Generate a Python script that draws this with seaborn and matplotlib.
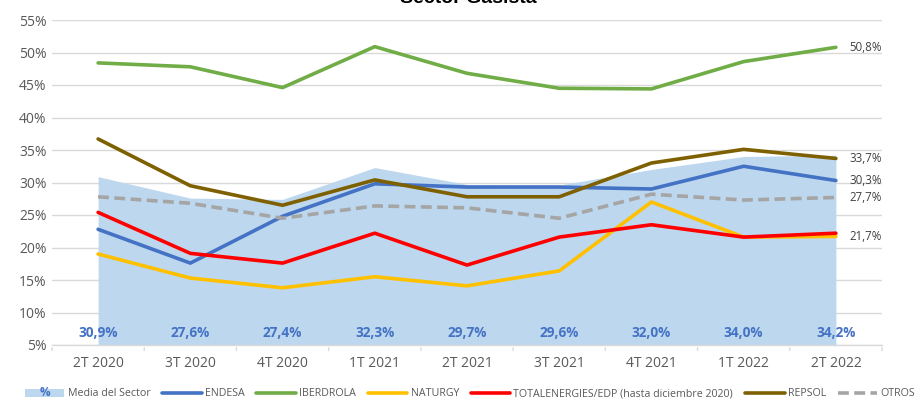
import numpy as np
import pandas as pd
import matplotlib
matplotlib.use("Agg")
import matplotlib.pyplot as plt
import seaborn as sns
from matplotlib.patches import Patch
from matplotlib.lines import Line2D

categories = ["2T 2020", "3T 2020", "4T 2020", "1T 2021", "2T 2021",
              "3T 2021", "4T 2021", "1T 2022", "2T 2022"]
media = [30.9, 27.6, 27.4, 32.3, 29.7, 29.6, 32.0, 34.0, 34.2]
endesa = [22.8, 17.6, 24.8, 29.8, 29.3, 29.3, 29.0, 32.5, 30.3]
iberdrola = [48.4, 47.8, 44.6, 50.9, 46.8, 44.5, 44.4, 48.6, 50.8]
naturgy = [19.0, 15.3, 13.8, 15.5, 14.1, 16.4, 27.0, 21.6, 21.7]
totalenergies = [25.4, 19.1, 17.6, 22.2, 17.3, 21.6, 23.5, 21.6, 22.2]
repsol = [36.7, 29.5, 26.5, 30.4, 27.8, 27.8, 33.0, 35.1, 33.7]
otros = [27.8, 26.8, 24.5, 26.4, 26.1, 24.5, 28.2, 27.3, 27.7]

series_names = ["ENDESA", "IBERDROLA", "NATURGY",
                "TOTALENERGIES/EDP (hasta diciembre 2020)", "REPSOL", "OTROS"]
series_vals = [endesa, iberdrola, naturgy, totalenergies, repsol, otros]
colors = ["#4472C4", "#70AD47", "#FFC000", "#FF0000", "#7F6000", "#A5A5A5"]
end_labels = {"IBERDROLA": "50,8%", "REPSOL": "33,7%", "ENDESA": "30,3%",
              "OTROS": "27,7%", "NATURGY": "21,7%"}

sns.set_theme(style="white")
plt.rcParams['font.family'] = ['Open Sans', 'DejaVu Sans']

fig = plt.figure(figsize=(9.22, 4.01), dpi=100)
ax = fig.add_axes([52/922, 1-345/401, 830/922, 325/401])

x = np.arange(len(categories))
ax.fill_between(x, 5, media, color="#BDD7EE", linewidth=0, zorder=1)

rows = []
for name, vals in zip(series_names, series_vals):
    for i, v in enumerate(vals):
        rows.append({"x": i, "val": v, "serie": name})
df = pd.DataFrame(rows)
pal = dict(zip(series_names, colors))
dash_map = {n: ("" if n != "OTROS" else (3, 1.5)) for n in series_names}
sns.lineplot(data=df, x="x", y="val", hue="serie", style="serie",
             palette=pal, dashes=dash_map, hue_order=series_names,
             style_order=series_names, linewidth=2.6, ax=ax, legend=False,
             zorder=3)

ax.set_xlim(-0.5, len(categories) - 0.5)
ax.set_ylim(5, 55)
ax.set_yticks(np.arange(5, 56, 5))
ax.set_yticklabels([f"{v}%" for v in range(5, 56, 5)], color="#595959", fontsize=10)
ax.yaxis.grid(True, color="#D9D9D9", linewidth=1)
ax.set_axisbelow(True)
ax.set_xticks(x)
ax.set_xticklabels(categories, color="#595959", fontsize=10)
ax.tick_params(axis="x", length=0, pad=8)
ax.tick_params(axis="y", length=0, pad=4)
ax.set_xlabel("")
ax.set_ylabel("")
for s in ["top", "right", "left"]:
    ax.spines[s].set_visible(False)
ax.spines["bottom"].set_color("#D9D9D9")
ax.spines["bottom"].set_linewidth(1)
for b in np.arange(-0.5, len(categories), 1.0):
    ax.annotate("", xy=(b, 5), xycoords="data", xytext=(0, -6),
                textcoords="offset points",
                arrowprops=dict(arrowstyle="-", color="#D9D9D9", lw=1))

for i, v in enumerate(media):
    ax.text(i, 6.8, f"{v:.1f}%".replace(".", ","), ha="center", va="center",
            color="#4472C4", fontsize=9.8, fontweight="bold", zorder=4)

for name, vals in zip(series_names, series_vals):
    if name in end_labels:
        ax.annotate(end_labels[name], xy=(len(categories) - 1, vals[-1]),
                    xytext=(10, 0), textcoords="offset points",
                    va="center", ha="left", fontsize=8.3, color="#404040",
                    annotation_clip=False)

fig.text(468/922, 1 - 3/401, "Sector Gasista", ha="center", va="baseline",
         fontsize=14, fontweight="bold", color="black",
         family=["Liberation Sans", "DejaVu Sans"])

handles = [Patch(facecolor="#BDD7EE", edgecolor="none")]
labels = ["Media del Sector"]
for name, c in zip(series_names, colors):
    if name == "OTROS":
        handles.append(Line2D([0], [0], color=c, lw=2.6, linestyle=(0, (3, 1.5))))
    else:
        handles.append(Line2D([0], [0], color=c, lw=2.6))
    labels.append(name)
leg = fig.legend(handles, labels, loc="center", bbox_to_anchor=(470/922, 1 - 394/401),
                 ncol=7, frameon=False, fontsize=7.7, handlelength=3.7,
                 handletextpad=0.3, columnspacing=1.1, labelcolor="#595959",
                 borderpad=0.2)

fig.canvas.draw()
bb = leg.legend_handles[0].get_window_extent()
inv = fig.transFigure.inverted()
cx, cy = inv.transform(((bb.x0 + bb.x1) / 2, (bb.y0 + bb.y1) / 2))
fig.text(cx, cy, "%", ha="center", va="center", fontsize=8.5, fontweight="bold",
         color="#4472C4", zorder=10)

fig.savefig("out.png", dpi=100)
